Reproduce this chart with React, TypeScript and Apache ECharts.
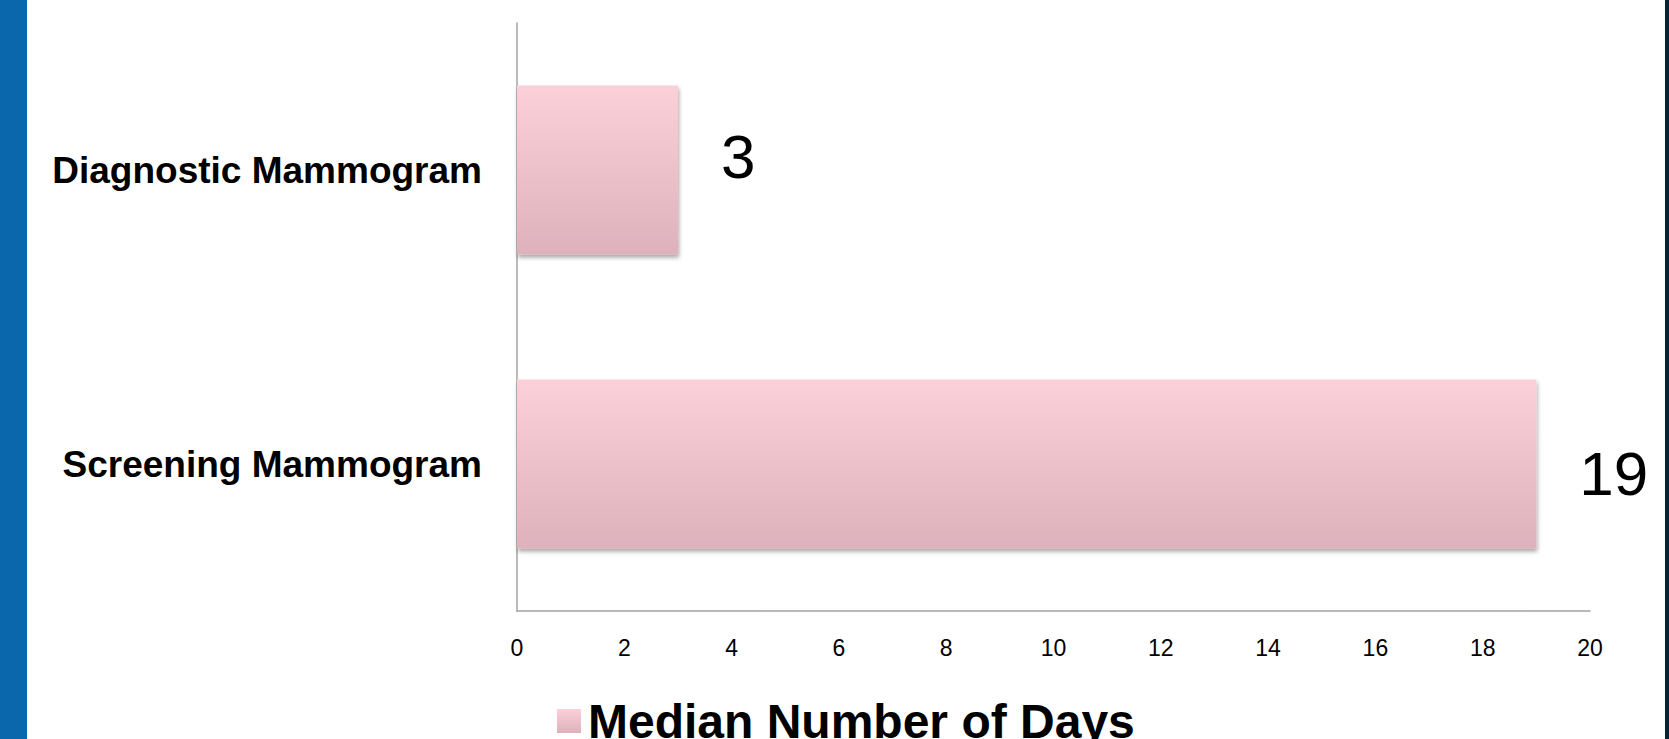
import React, { useEffect, useRef } from "react";
import * as echarts from "echarts";

const categories = ["Screening Mammogram", "Diagnostic Mammogram"];
const medianDays = [19, 3];
const seriesName = "Median Number of Days";
const xTicks = [0, 2, 4, 6, 8, 10, 12, 14, 16, 18, 20];
const labelOffsets = [[0, 9], [0, -14]];

export default function App() {
  const ref = useRef<HTMLDivElement>(null);
  useEffect(() => {
    document.body.style.margin = "0";
    const chart = echarts.init(ref.current!, null, { renderer: "svg" });
    const grad = new echarts.graphic.LinearGradient(0, 0, 0, 1, [
      { offset: 0, color: "#FBD0D8" },
      { offset: 1, color: "#DEB2BC" },
    ]);
    chart.setOption({
      animation: false,
      backgroundColor: "#ffffff",
      textStyle: { fontFamily: "Liberation Sans, Arial, sans-serif" },
      grid: { left: 517, right: 79, top: 23, bottom: 128, containLabel: false },
      xAxis: {
        type: "value",
        min: xTicks[0],
        max: xTicks[xTicks.length - 1],
        interval: 2,
        axisLine: { show: true, lineStyle: { color: "#A3A3A3", width: 1.5 } },
        axisTick: { show: false },
        splitLine: { show: false },
        axisLabel: { color: "#000", fontSize: 23, margin: 25 },
      },
      yAxis: {
        type: "category",
        data: categories,
        axisLine: { show: true, lineStyle: { color: "#A3A3A3", width: 1.5 } },
        axisTick: { show: false },
        axisLabel: { color: "#000", fontSize: 37, fontWeight: "bold", margin: 35 },
      },
      legend: {
        show: true,
        left: 552,
        top: 692,
        itemWidth: 24,
        itemHeight: 24,
        itemGap: 11,
        icon: "rect",
        textStyle: { fontSize: 48, fontWeight: "bold", color: "#000", padding: [0, 0, 0, 2] },
        data: [seriesName],
      },
      series: [
        {
          name: seriesName,
          type: "bar",
          barWidth: 169,
          data: medianDays.map((v, i) => ({
            value: v,
            label: { offset: labelOffsets[i] },
          })),
          itemStyle: {
            color: grad,
            shadowColor: "rgba(0,0,0,0.35)",
            shadowBlur: 4,
            shadowOffsetY: 3,
            shadowOffsetX: 1,
          },
          label: {
            show: true,
            position: "right",
            distance: 43,
            fontSize: 62,
            color: "#000",
          },
        },
      ],
      graphic: [
        { type: "rect", left: 0, top: 0, shape: { width: 27, height: 739 }, style: { fill: "#0A67AB" } },
        { type: "rect", left: 1665, top: 0, shape: { width: 4, height: 739 }, style: { fill: "#03233A" } },
      ],
    });
    return () => chart.dispose();
  }, []);
  return <div ref={ref} style={{ position: "fixed", left: 0, top: 0, width: 1669, height: 739 }} />;
}
